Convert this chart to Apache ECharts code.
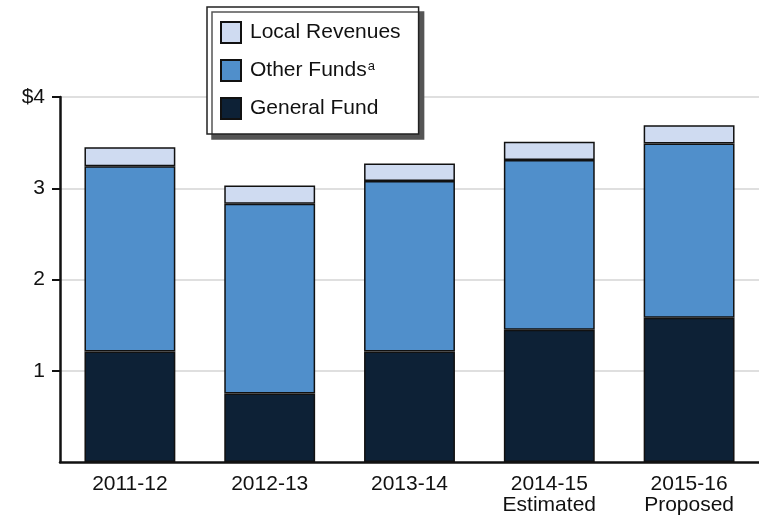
<!DOCTYPE html>
<html>
<head>
<meta charset="utf-8">
<script src="https://cdn.jsdelivr.net/npm/echarts@6/dist/echarts.min.js"></script>
<style>
  html, body { margin: 0; padding: 0; background: #fff; }
  #chart { width: 759px; height: 516px; }
</style>
</head>
<body>
<div id="chart"></div>
<script>
const years = ['2011-12', '2012-13', '2013-14', '2014-15\nEstimated', '2015-16\nProposed'];
const generalFund = [1.21, 0.75, 1.21, 1.45, 1.58];
const otherFunds = [2.03, 2.08, 1.87, 1.86, 1.91];
const localRevenues = [0.21, 0.20, 0.19, 0.20, 0.20];
const yTickValues = [1, 2, 3, 4];
const yTicks = { 1: '1', 2: '2', 3: '3', 4: '$4' };

const FONT = '"Liberation Sans", Arial, Helvetica, sans-serif';
const edge = { borderColor: '#111', borderWidth: 1.5 };

const chart = echarts.init(document.getElementById('chart'));
chart.setOption({
  animation: false,
  textStyle: { fontFamily: FONT },
  grid: { left: 60, right: 0, top: 97, bottom: 54 },
  legend: {
    orient: 'vertical', left: 207, top: 7,
    padding: [14, 18, 14, 13],
    icon: 'rect',
    itemWidth: 20, itemHeight: 21, itemGap: 15,
    backgroundColor: '#fff', borderColor: '#222', borderWidth: 1.5,
    shadowColor: '#555', shadowBlur: 0, shadowOffsetX: 5, shadowOffsetY: 5,
    data: ['Local Revenues', 'Other Funds', 'General Fund'],
    formatter: n => n === 'Other Funds' ? '{n|Other Funds}{s|a}' : '{n|' + n + '}',
    textStyle: {
      fontFamily: FONT, fontSize: 21, lineHeight: 21, color: '#111', padding: [0, 0, 0, 4],
      rich: {
        n: { fontSize: 21, lineHeight: 21, fontFamily: FONT, color: '#111' },
        s: { fontSize: 13, lineHeight: 13, fontFamily: FONT, color: '#111', verticalAlign: 'top', padding: [0, 0, 0, 1] }
      }
    }
  },
  xAxis: {
    type: 'category', data: years,
    axisLine: { lineStyle: { color: '#111', width: 2.5 } },
    axisTick: { show: false },
    axisLabel: { fontSize: 21, color: '#111', margin: 12, lineHeight: 21 }
  },
  yAxis: {
    type: 'value', min: 0, max: 4, interval: 1,
    axisLine: { show: true, lineStyle: { color: '#111', width: 2.5 } },
    axisTick: { show: true, length: 8, customValues: yTickValues, lineStyle: { color: '#111', width: 2 } },
    axisLabel: {
      fontSize: 21, color: '#111', margin: 15,
      customValues: yTickValues,
      formatter: v => yTicks[v] || ''
    },
    splitLine: { lineStyle: { color: '#d4d4d4', width: 1.5 } }
  },
  series: [
    { name: 'General Fund', type: 'bar', stack: 'a', barWidth: '65%', data: generalFund,
      itemStyle: Object.assign({ color: '#0d2136' }, edge) },
    { name: 'Other Funds', type: 'bar', stack: 'a', data: otherFunds,
      itemStyle: Object.assign({ color: '#508fcb' }, edge) },
    { name: 'Local Revenues', type: 'bar', stack: 'a', data: localRevenues,
      itemStyle: Object.assign({ color: '#cfdbf1' }, edge) }
  ]
});
</script>
</body>
</html>
